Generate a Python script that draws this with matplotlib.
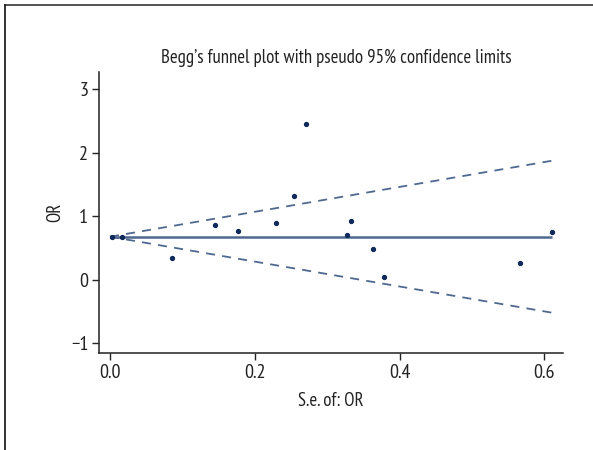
import matplotlib
matplotlib.use("Agg")
import matplotlib.pyplot as plt
from matplotlib.lines import Line2D
import numpy as np

plt.rcParams['font.family'] = ['PT Sans Narrow', 'DejaVu Sans']

# Study-level estimates: standard error and OR
se = [0.003, 0.016, 0.085, 0.145, 0.177, 0.229, 0.254, 0.271, 0.328, 0.333,
      0.363, 0.378, 0.566, 0.611]
or_vals = [0.68, 0.67, 0.35, 0.87, 0.77, 0.89, 1.32, 2.45, 0.70, 0.93,
           0.48, 0.05, 0.27, 0.76]

pooled = 0.679
z95 = 1.96

title = "Begg\u2019s funnel plot with pseudo 95% confidence limits"
xlabel = "S.e. of: OR"
ylabel = "OR"
xticks = [0.0, 0.2, 0.4, 0.6]
xticklabels = ["0.0", "0.2", "0.4", "0.6"]
yticks = [-1, 0, 1, 2, 3]
yticklabels = ["\u22121", "0", "1", "2", "3"]

W, H = 593, 450
fig = plt.figure(figsize=(W / 100, H / 100), dpi=100)
ax = fig.add_axes([99.3 / W, 1 - 353.3 / H, (562.7 - 99.3) / W, (353.3 - 72.3) / H])

line_col = "#4f6890"
dot_col = "#0f2a5a"
ink = "#222222"

se_max = max(se)
s_line = np.array([0.0, se_max])
ax.plot(s_line, [pooled, pooled], color=line_col, lw=1.8, solid_capstyle="butt", zorder=2)
ax.plot(s_line, pooled + z95 * s_line, color=line_col, lw=1.3, ls=(0, (5, 4)), zorder=2)
ax.plot(s_line, pooled - z95 * s_line, color=line_col, lw=1.3, ls=(0, (5, 4)), zorder=2)
ax.plot(se, or_vals, ls="none", marker="o", ms=2.8, color=dot_col, mec=dot_col, zorder=3)

ax.set_xlim(-0.0148, 0.6253)
ax.set_ylim(-1.157, 3.268)

for side in ("top", "right"):
    ax.spines[side].set_visible(False)
for side in ("left", "bottom"):
    ax.spines[side].set_linewidth(1.1)
    ax.spines[side].set_color(ink)

ax.set_xticks(xticks)
ax.set_xticklabels(xticklabels)
ax.set_yticks(yticks)
ax.set_yticklabels(yticklabels)
ax.tick_params(axis="both", length=5, width=1.0, color=ink,
               labelsize=14.5, labelcolor=ink, pad=3)

ax.set_xlabel(xlabel, fontsize=13.5, color=ink, labelpad=7)
ax.set_ylabel(ylabel, fontsize=13.5, color=ink, labelpad=5)
fig.text(336 / W, 1 - 58 / H, title, ha="center", va="center",
         fontsize=13.5, color=ink)

# outer frame: top and left edges
fig.add_artist(Line2D([5.3 / W, 1.0], [1 - 5 / H, 1 - 5 / H],
                      transform=fig.transFigure, color="#444444", lw=1.3))
fig.add_artist(Line2D([5.3 / W, 5.3 / W], [0.0, 1 - 5 / H],
                      transform=fig.transFigure, color=ink, lw=1.3))

fig.savefig("out.png", dpi=100, facecolor="white")
